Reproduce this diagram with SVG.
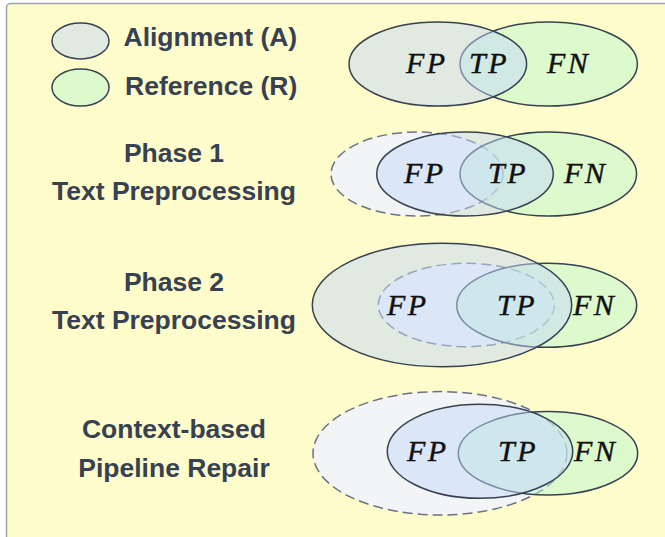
<svg xmlns="http://www.w3.org/2000/svg" width="665" height="537" viewBox="0 0 665 537">
<style>
.lbl{font-family:"Liberation Sans",Arial,sans-serif;font-weight:bold;font-size:26.5px;fill:#374151}
.c{text-anchor:middle}
.m{font-family:"Liberation Serif","Times New Roman",serif;font-style:italic;font-size:30px;fill:#111;stroke:#111;stroke-width:0.4;letter-spacing:2.5px}
.a{fill:#c4d8f8;fill-opacity:0.5;stroke:#374151;stroke-width:1.5}
.r{fill:#bbf7d0;fill-opacity:0.5;stroke:#374151;stroke-width:1.5}
.d{fill:#f3f4f6;stroke:#6b7280;stroke-width:1.5;stroke-dasharray:10 5}
</style>
<rect x="6.5" y="3.5" width="700" height="600" rx="4" fill="#fefccb" stroke="#9ca3af" stroke-width="1.5"/>
<g id="legend">
<ellipse class="a" cx="80.5" cy="41" rx="28.5" ry="18"/>
<ellipse class="r" cx="80.5" cy="87.5" rx="28.5" ry="18.5"/>
<text class="lbl" x="123.5" y="46">Alignment (A)</text>
<text class="lbl" x="125" y="95">Reference (R)</text>
</g>
<g id="venn0">
<ellipse class="r" cx="548.7" cy="64" rx="88.7" ry="42"/>
<ellipse class="a" cx="437.8" cy="64" rx="88.8" ry="42"/>
<text class="m" x="406" y="73">FP</text>
<text class="m" x="469" y="73">TP</text>
<text class="m" x="547" y="73">FN</text>
</g>
<g id="phase1">
<text class="lbl c" x="174" y="162">Phase 1</text>
<text class="lbl c" x="174" y="200">Text Preprocessing</text>
<ellipse class="d" cx="417" cy="174" rx="86" ry="42"/>
<ellipse class="r" cx="548.3" cy="174" rx="88.3" ry="42"/>
<ellipse class="a" cx="465" cy="174" rx="88.3" ry="42"/>
<text class="m" x="404" y="183">FP</text>
<text class="m" x="488" y="183">TP</text>
<text class="m" x="564" y="183">FN</text>
</g>
<g id="phase2">
<text class="lbl c" x="174" y="291">Phase 2</text>
<text class="lbl c" x="174" y="329">Text Preprocessing</text>
<ellipse class="d" cx="466.3" cy="305" rx="88" ry="41.7"/>
<ellipse class="r" cx="546.7" cy="305.3" rx="90" ry="42"/>
<ellipse class="a" cx="442" cy="305" rx="129.7" ry="61.7"/>
<text class="m" x="387" y="315">FP</text>
<text class="m" x="497" y="315">TP</text>
<text class="m" x="573" y="315">FN</text>
</g>
<g id="repair">
<text class="lbl c" x="174" y="438">Context-based</text>
<text class="lbl c" x="174" y="477">Pipeline Repair</text>
<ellipse class="d" cx="440" cy="453.3" rx="127" ry="61.7"/>
<ellipse class="r" cx="548" cy="453.3" rx="89.7" ry="41.7"/>
<ellipse class="a" cx="480" cy="451.3" rx="92.7" ry="47"/>
<text class="m" x="407" y="461">FP</text>
<text class="m" x="498" y="461">TP</text>
<text class="m" x="574" y="461">FN</text>
</g>
</svg>
